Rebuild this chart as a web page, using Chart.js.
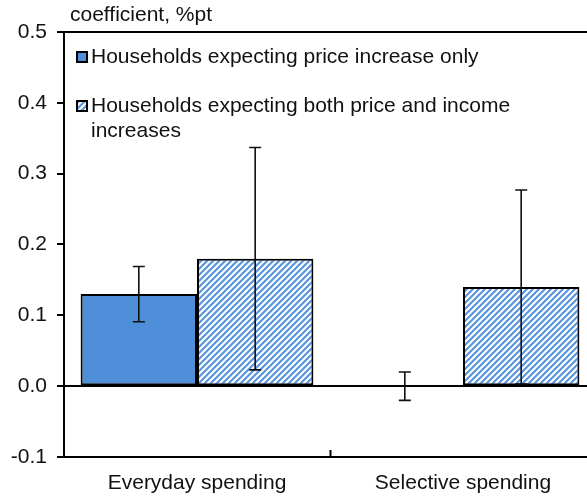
<!DOCTYPE html>
<html lang="en">
<head>
    <meta charset="UTF-8">
    <title>Spending coefficients</title>
    <script src="https://cdn.jsdelivr.net/npm/chart.js"></script>
    <style>
        html, body {
            margin: 0;
            padding: 0;
            background: #fff;
            overflow: hidden;
        }
        #chartBox {
            width: 600px;
            height: 498px;
        }
    </style>
</head>
<body>

<div id="chartBox">
    <canvas id="coefChart" width="600" height="498"></canvas>
</div>

<script>
    // categories and series
    const categories = ['Everyday spending', 'Selective spending'];
    const priceOnly = [0.13, 0.0];
    const priceOnlyErr = [0.039, 0.02];
    const priceIncome = [0.18, 0.14];
    const priceIncomeErr = [0.157, 0.137];
    const yTicks = [0.5, 0.4, 0.3, 0.2, 0.1, 0.0, -0.1];

    const BLUE = '#4f8fda';
    const FONT = 'Liberation Sans, Arial, sans-serif';
    const FONT_SIZE = 21;

    // diagonal stripe fill for the second series
    function makeHatch() {
        const tile = document.createElement('canvas');
        tile.width = 6;
        tile.height = 6;
        const t = tile.getContext('2d');
        t.fillStyle = '#fff';
        t.fillRect(0, 0, 6, 6);
        t.strokeStyle = '#5a96de';
        t.lineWidth = 2.2;
        t.beginPath();
        t.moveTo(-1, 7); t.lineTo(7, -1);
        t.moveTo(-1, 1); t.lineTo(1, -1);
        t.moveTo(5, 7); t.lineTo(7, 5);
        t.stroke();
        return t.createPattern(tile, 'repeat');
    }

    const ctx = document.getElementById('coefChart').getContext('2d');
    const hatch = makeHatch();

    const errors = [priceOnlyErr, priceIncomeErr];

    // error bars, legend, unit label and the middle category tick
    const extras = {
        id: 'extras',
        afterDatasetsDraw(chart) {
            const c = chart.ctx;
            const y = chart.scales.y;
            const x = chart.scales.x;
            const area = chart.chartArea;

            c.save();
            c.strokeStyle = '#111';
            c.lineWidth = 1.6;
            chart.data.datasets.forEach((ds, i) => {
                const meta = chart.getDatasetMeta(i);
                meta.data.forEach((bar, j) => {
                    const v = ds.data[j];
                    const e = errors[i][j];
                    const top = y.getPixelForValue(v + e);
                    const bot = y.getPixelForValue(v - e);
                    c.beginPath();
                    c.moveTo(bar.x, top); c.lineTo(bar.x, bot);
                    c.moveTo(bar.x - 6, top); c.lineTo(bar.x + 6, top);
                    c.moveTo(bar.x - 6, bot); c.lineTo(bar.x + 6, bot);
                    c.stroke();
                });
            });

            // tick between the two categories
            const mid = Math.round(x.getPixelForValue(0.5)) + 0.5;
            c.strokeStyle = '#000';
            c.lineWidth = 2;
            c.beginPath();
            c.moveTo(mid, area.bottom);
            c.lineTo(mid, area.bottom - 7);
            c.stroke();

            // unit label
            c.fillStyle = '#111';
            c.font = FONT_SIZE + 'px ' + FONT;
            c.textBaseline = 'alphabetic';
            c.fillText('coefficient, %pt', 70, 21);

            // legend inside the plot
            const items = [
                { fill: BLUE, lines: ['Households expecting price increase only'], y: 63 },
                { fill: hatch, lines: ['Households expecting both price and income', 'increases'], y: 112 }
            ];
            items.forEach(it => {
                c.fillStyle = it.fill;
                c.fillRect(77, it.y - 11, 10, 10);
                c.strokeStyle = '#000';
                c.lineWidth = 2;
                c.strokeRect(77, it.y - 11, 10, 10);
                c.fillStyle = '#111';
                it.lines.forEach((ln, k) => c.fillText(ln, 91, it.y + k * 25));
            });
            c.restore();
        }
    };

    const chart = new Chart(ctx, {
        type: 'bar',
        data: {
            labels: categories,
            datasets: [
                {
                    label: 'Households expecting price increase only',
                    data: priceOnly,
                    backgroundColor: BLUE,
                    borderColor: '#000',
                    borderWidth: 2,
                    borderSkipped: false
                },
                {
                    label: 'Households expecting both price and income increases',
                    data: priceIncome,
                    backgroundColor: hatch,
                    borderColor: '#000',
                    borderWidth: 2,
                    borderSkipped: false
                }
            ]
        },
        options: {
            responsive: false,
            animation: false,
            layout: { padding: { top: 32, right: 4, left: 0, bottom: 0 } },
            datasets: {
                bar: { barPercentage: 1, categoryPercentage: 0.875 }
            },
            plugins: {
                legend: { display: false },
                tooltip: { enabled: false }
            },
            scales: {
                x: {
                    grid: { display: false },
                    border: { display: true, color: '#000', width: 2 },
                    ticks: {
                        color: '#111',
                        padding: 6,
                        font: { family: FONT, size: FONT_SIZE }
                    },
                    afterFit(scale) { scale.height = 41; }
                },
                y: {
                    min: -0.1,
                    max: 0.5,
                    afterBuildTicks(scale) {
                        scale.ticks = yTicks.map(v => ({ value: v }));
                    },
                    grid: {
                        color: c => (Math.abs(c.tick.value) < 1e-9 || Math.abs(c.tick.value - 0.5) < 1e-9) ? '#000' : 'rgba(0,0,0,0)',
                        lineWidth: 2,
                        tickColor: '#000',
                        tickWidth: 2,
                        tickLength: 7
                    },
                    border: { display: true, color: '#000', width: 2 },
                    ticks: {
                        color: '#111',
                        padding: 10,
                        font: { family: FONT, size: FONT_SIZE }
                        ,
                        callback: v => Number(v).toFixed(1)
                    },
                    afterFit(scale) { scale.width = 64; }
                }
            }
        },
        plugins: [extras]
    });
</script>

</body>
</html>
